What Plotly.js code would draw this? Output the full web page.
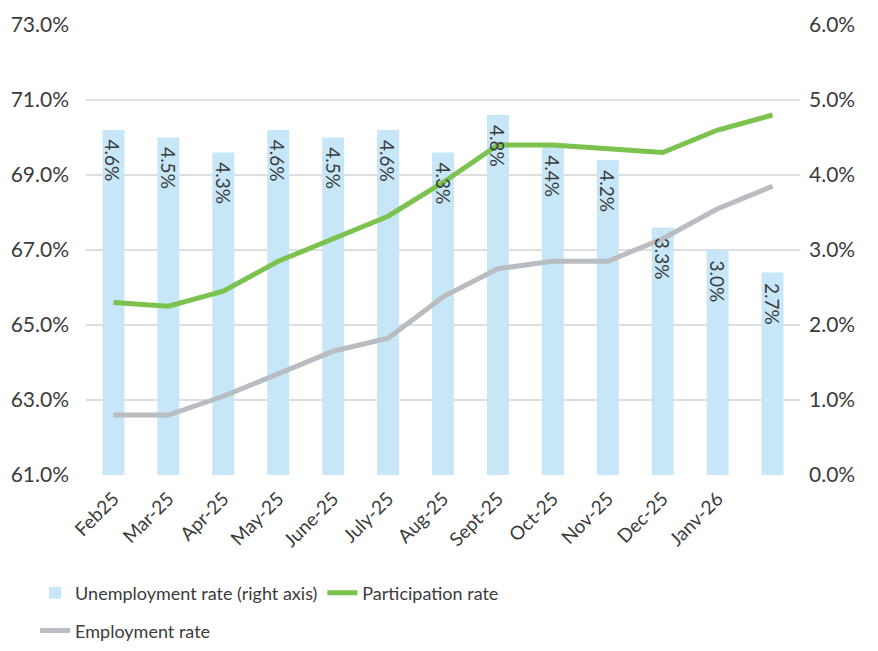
<!DOCTYPE html>
<html>
<head>
<meta charset="utf-8">
<script src="https://cdn.plot.ly/plotly-3.0.1.min.js"></script>
<style>
  html, body { margin: 0; padding: 0; background: #fff; }
  #chart { width: 878px; height: 651px; }
</style>
</head>
<body>
<div id="chart"></div>
<script>
// Monatslabels (letzte Säule ohne Beschriftung)
const months = ['Feb25', 'Mar-25', 'Apr-25', 'May-25', 'June-25', 'July-25', 'Aug-25',
  'Sept-25', 'Oct-25', 'Nov-25', 'Dec-25', 'Janv-26', ''];

const unemployment = [4.6, 4.5, 4.3, 4.6, 4.5, 4.6, 4.3, 4.8, 4.4, 4.2, 3.3, 3.0, 2.7];
const participation = [65.6, 65.5, 65.9, 66.7, 67.3, 67.9, 68.8, 69.8, 69.8, 69.7, 69.6, 70.2, 70.6];
const employment = [62.6, 62.6, 63.1, 63.7, 64.3, 64.65, 65.75, 66.5, 66.7, 66.7, 67.3, 68.1, 68.7];

const fontFam = 'Lato, "Open Sans", sans-serif';
const textCol = '#3b3b3b';
const xs = months.map((m, i) => i);

const barTrace = {
  type: 'bar',
  x: xs,
  y: unemployment,
  yaxis: 'y',
  name: 'Unemployment rate (right axis)',
  marker: { color: '#c7e7f8' },
  width: 0.4,
  hoverinfo: 'none',
  legend: 'legend'
};

const partTrace = {
  type: 'scatter',
  mode: 'lines',
  x: xs,
  y: participation,
  yaxis: 'y2',
  name: 'Participation rate',
  line: { color: '#7cc24e', width: 5 },
  hoverinfo: 'none',
  legend: 'legend'
};

const empTrace = {
  type: 'scatter',
  mode: 'lines',
  x: xs,
  y: employment,
  yaxis: 'y2',
  name: 'Employment rate',
  line: { color: '#b9bcc0', width: 5 },
  hoverinfo: 'none',
  legend: 'legend2'
};

// Werte in den Säulen, gedreht
const barLabels = unemployment.map((v, i) => ({
  x: i,
  y: v,
  xref: 'x',
  yref: 'y',
  text: v.toFixed(1) + '%',
  textangle: 90,
  showarrow: false,
  xanchor: 'center',
  yanchor: 'top',
  yshift: -8,
  font: { family: fontFam, size: 19, color: textCol }
}));

const layout = {
  width: 878,
  height: 651,
  margin: { l: 86, r: 78, t: 25, b: 176 },
  paper_bgcolor: '#fff',
  plot_bgcolor: '#fff',
  font: { family: fontFam, color: textCol },
  showlegend: true,
  xaxis: {
    range: [-0.5, 12.5],
    tickmode: 'array',
    tickvals: xs,
    ticktext: months,
    tickangle: -45,
    tickfont: { size: 19, color: textCol },
    showgrid: false,
    zeroline: false,
    showline: false,
    ticks: '',
    ticklabelstandoff: 8,
    automargin: false
  },
  yaxis: {
    side: 'right',
    range: [0, 6],
    dtick: 1,
    tickformat: '.1f',
    ticksuffix: '%',
    tickfont: { size: 21, color: textCol },
    showgrid: true,
    gridcolor: '#dedede',
    gridwidth: 1.5,
    zeroline: false,
    ticklabelstandoff: 8,
    automargin: false
  },
  yaxis2: {
    side: 'left',
    overlaying: 'y',
    range: [61, 73],
    dtick: 2,
    tick0: 61,
    tickformat: '.1f',
    ticksuffix: '%',
    tickfont: { size: 21, color: textCol },
    showgrid: false,
    zeroline: false,
    ticklabelstandoff: 16,
    automargin: false
  },
  legend: {
    orientation: 'h',
    x: 0.04, xanchor: 'left', xref: 'container',
    y: 0.089, yanchor: 'middle', yref: 'container',
    font: { size: 18, color: textCol },
    itemwidth: 30,
    traceorder: 'normal'
  },
  legend2: {
    orientation: 'h',
    x: 0.04, xanchor: 'left', xref: 'container',
    y: 0.031, yanchor: 'middle', yref: 'container',
    font: { size: 18, color: textCol },
    itemwidth: 30
  },
  annotations: barLabels
};

Plotly.newPlot('chart', [barTrace, partTrace, empTrace], layout, { staticPlot: true });
</script>
</body>
</html>
